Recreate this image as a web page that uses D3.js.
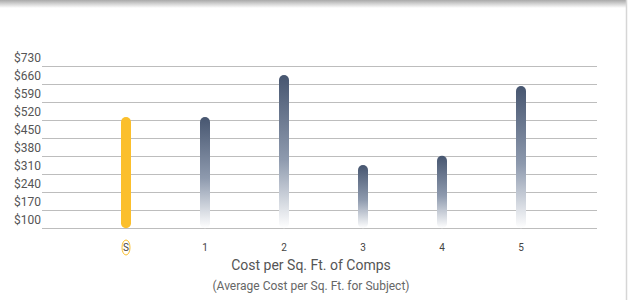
<!DOCTYPE html>
<html>
<head>
<meta charset="utf-8">
<script src="https://cdn.jsdelivr.net/npm/d3@7"></script>
<style>
  body { margin: 0; background: #fff; }
  svg { display: block; font-family: Roboto, "Noto Sans", sans-serif; }
</style>
</head>
<body>
<div id="chart"></div>
<script>
// data
var categories = ["S", "1", "2", "3", "4", "5"];
var costs = [531, 531, 694, 345, 381, 651];
var yTicks = [100, 170, 240, 310, 380, 450, 520, 590, 660, 730];
var xTitle = "Cost per Sq. Ft. of Comps";
var xSubtitle = "(Average Cost per Sq. Ft. for Subject)";

var width = 628, height = 300;
var svg = d3.select("#chart").append("svg").attr("width", width).attr("height", height);
var defs = svg.append("defs");

// top shadow
var sh = defs.append("linearGradient").attr("id", "shadow").attr("x1", 0).attr("y1", 0).attr("x2", 0).attr("y2", 1);
sh.append("stop").attr("offset", "0%").attr("stop-color", "#a9a9a9");
sh.append("stop").attr("offset", "100%").attr("stop-color", "#fff");
svg.append("rect").attr("x", 0).attr("y", 0).attr("width", 626).attr("height", 8).attr("fill", "url(#shadow)");
svg.append("line").attr("x1", 626.5).attr("x2", 626.5).attr("y1", 0).attr("y2", height)
  .attr("stroke", "#d6d6d6").attr("stroke-width", 1.5);

// bar gradient
var bg = defs.append("linearGradient").attr("id", "barGrad").attr("x1", 0).attr("y1", 0).attr("x2", 0).attr("y2", 1);
bg.append("stop").attr("offset", "0%").attr("stop-color", "#475670");
bg.append("stop").attr("offset", "55%").attr("stop-color", "#8e9aae");
bg.append("stop").attr("offset", "100%").attr("stop-color", "#ffffff");

var gridLeft = 42, gridRight = 597;
var yScale = d3.scaleLinear().domain([100, 730]).range([228.3, 65.7]);
var xScale = d3.scalePoint().domain(categories).range([47, 600]).padding(1);

// gridlines + y labels
var yAxis = svg.append("g");
yAxis.selectAll("line").data(yTicks).enter().append("line")
  .attr("x1", gridLeft).attr("x2", gridRight)
  .attr("y1", d => Math.round(yScale(d)) + 0.5).attr("y2", d => Math.round(yScale(d)) + 0.5)
  .attr("stroke", "#bdbdbd").attr("stroke-width", 1);
yAxis.selectAll("text").data(yTicks).enter().append("text")
  .attr("x", 14).attr("y", d => yScale(d) - 4)
  .attr("font-size", 12).attr("fill", "#555")
  .text(d => "$" + d);

// bars
var barW = 10;
svg.append("g").selectAll("rect").data(costs).enter().append("rect")
  .attr("x", (d, i) => xScale(categories[i]) - barW / 2)
  .attr("y", d => yScale(d))
  .attr("width", barW)
  .attr("height", d => yScale(100) - yScale(d))
  .attr("rx", barW / 2)
  .attr("fill", (d, i) => i === 0 ? "#fbbf2c" : "url(#barGrad)");

// x tick labels
var xAxis = svg.append("g");
xAxis.selectAll("text").data(categories).enter().append("text")
  .attr("x", d => xScale(d)).attr("y", 251)
  .attr("text-anchor", "middle").attr("font-size", 10).attr("fill", "#444")
  .text(d => d);
xAxis.append("ellipse")
  .attr("cx", xScale("S")).attr("cy", 247.5).attr("rx", 4).attr("ry", 7.5)
  .attr("fill", "none").attr("stroke", "#fbbf2c").attr("stroke-width", 1);

svg.append("text").attr("x", 311).attr("y", 270).attr("text-anchor", "middle")
  .attr("font-size", 14).attr("fill", "#555").text(xTitle);
svg.append("text").attr("x", 311).attr("y", 290).attr("text-anchor", "middle")
  .attr("font-size", 12).attr("fill", "#666").text(xSubtitle);
</script>
</body>
</html>
